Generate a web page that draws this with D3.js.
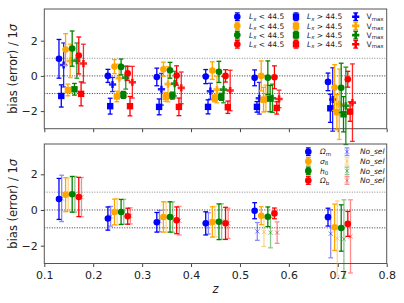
<!DOCTYPE html>
<meta charset="utf-8">
<head>
<script src="https://cdn.jsdelivr.net/npm/d3@7"></script>
<style>
body { margin: 0; background: #fff; }
text { font-family: "DejaVu Sans", sans-serif; fill: #222; }
</style>
</head>
<body>
<svg id="chart" width="404" height="303"></svg>
<script>
// redshift bins and colour of each parameter
var zBins = [0.13, 0.23, 0.33, 0.43, 0.53, 0.68];
var colors = ["#0000ff", "#ffa500", "#008000", "#ff0000"];

// top panel: L_x < 44.5 (circles)
var lowVal = [[0.97, 0.0, -0.06, -0.04, -0.11, -0.34], [1.5, 0.53, 0.38, 0.3, 0.0, -0.66],
              [1.55, 0.51, 0.32, 0.23, -0.1, -0.68], [1.16, 0.15, 0.02, 0.0, -0.08, -0.19]];
var lowErr = [[1.1, 0.37, 0.5, 0.4, 0.45, 0.5], [0.9, 0.4, 0.4, 0.5, 0.85, 1.3],
              [1.0, 0.45, 0.45, 0.6, 0.95, 1.4], [1.05, 0.4, 0.55, 0.35, 0.65, 0.45]];
// top panel: L_x > 44.5 (squares)
var highVal = [[-1.14, -1.72, -1.76, -1.76, -1.76, -1.84], [-0.8, -1.17, -1.19, -1.27, -1.35, -2.06],
               [-0.76, -1.08, -1.12, -1.19, -1.29, -2.18], [-1.02, -1.72, -1.76, -1.78, -1.82, -2.03]];
var highErr = [[0.63, 0.45, 0.45, 0.4, 0.3, 0.8], [0.33, 0.3, 0.25, 0.2, 0.7, 1.0],
               [0.33, 0.2, 0.2, 0.2, 0.75, 1.0], [0.68, 0.55, 0.5, 0.35, 0.35, 0.55]];
// top panel: V_max (plus)
var vmaxVal = [[0.62, -0.49, -0.76, -0.87, -1.27, -1.34], [0.85, -0.13, -0.47, -0.78, -1.27, -1.61],
               [0.87, -0.1, -0.44, -0.78, -1.27, -1.7], [0.7, -0.36, -0.68, -0.83, -1.31, -1.52]];
var vmaxErr = [[1.25, 0.4, 0.9, 0.45, 0.9, 1.8], [0.95, 0.8, 1.0, 0.75, 0.75, 2.0],
               [1.0, 0.65, 0.7, 0.75, 0.8, 2.2], [1.1, 0.9, 0.9, 1.15, 0.5, 2.2]];

// bottom panel: selected sample (circles) and No_sel (x)
var selVal = [[0.62, -0.48, -0.69, -0.75, -0.04, -0.4], [0.86, -0.11, -0.39, -0.67, -0.32, -0.97],
              [0.88, -0.11, -0.39, -0.66, -0.38, -1.01], [0.73, -0.35, -0.58, -0.75, -0.19, -0.78]];
var selErr = [[1.15, 0.65, 0.55, 0.65, 0.45, 0.5], [0.95, 0.72, 0.85, 0.85, 0.5, 1.3],
              [1.0, 0.7, 0.85, 1.0, 0.55, 1.3], [1.1, 0.45, 0.75, 0.9, 0.3, 0.7]];
var noselVal = [[0.65, -0.35, -0.62, -0.75, -1.2, -1.33], [0.86, -0.1, -0.4, -0.65, -1.24, -1.59],
                [0.88, -0.1, -0.4, -0.65, -1.27, -1.63], [0.72, -0.33, -0.6, -0.75, -1.27, -1.48]];
var noselErr = [[1.3, 0.55, 0.6, 0.6, 0.5, 1.35], [0.95, 0.75, 0.85, 0.85, 0.8, 2.1],
                [1.0, 0.7, 0.85, 1.0, 0.85, 2.2], [1.1, 0.45, 0.8, 0.85, 0.6, 2.05]];

var xTicks = [0.1, 0.2, 0.3, 0.4, 0.5, 0.6, 0.7, 0.8];
var yTicks = [-2, 0, 2];
var refLines = [1, 0, -1];
var paramNames = [["Ω", "m"], ["σ", "8"], ["h", "0"], ["Ω", "b"]];

var colStep = 0.0135;

var svg = d3.select("#chart");
var x = d3.scaleLinear().domain([0.1, 0.8]).range([44.3, 386.7]);
var yTop = d3.scaleLinear().domain([-3, 3.8]).range([128.7, 9]);
var yBot = d3.scaleLinear().domain([-3, 3.7]).range([263.5, 144]);

function panel(y, showLabels) {
    var g = svg.append("g");
    refLines.forEach(function (v) {
        g.append("line")
            .attr("x1", x.range()[0]).attr("x2", x.range()[1])
            .attr("y1", y(v)).attr("y2", y(v))
            .attr("stroke", v == 1 ? "#888" : "#333")
            .attr("stroke-width", 1)
            .attr("stroke-dasharray", "1,1.5");
    });
    var xa = d3.axisBottom(x).tickValues(xTicks).tickSizeOuter(0).tickSize(3.5)
        .tickFormat(showLabels ? d3.format(".1f") : "");
    g.append("g").attr("transform", "translate(0," + y.range()[0] + ")").call(xa)
        .call(s => s.select(".domain").remove())
        .call(s => s.selectAll("text").attr("font-size", 11).attr("dy", "0.85em").style("font-family", "DejaVu Sans"));
    var ya = d3.axisLeft(y).tickValues(yTicks).tickSize(3.5).tickFormat(d3.format("d"));
    g.append("g").attr("transform", "translate(" + x.range()[0] + ",0)").call(ya)
        .call(s => s.select(".domain").remove())
        .call(s => s.selectAll("text").attr("font-size", 11).style("font-family", "DejaVu Sans"));
    g.selectAll(".tick line").attr("stroke", "#444");
    g.append("rect")
        .attr("x", x.range()[0]).attr("y", y.range()[1])
        .attr("width", x.range()[1] - x.range()[0])
        .attr("height", y.range()[0] - y.range()[1])
        .attr("fill", "none").attr("stroke", "#555").attr("stroke-width", 1);
    var lab = g.append("text")
        .attr("transform", "translate(17," + ((y.range()[0] + y.range()[1]) / 2) + ") rotate(-90)")
        .attr("text-anchor", "middle").attr("font-size", 11.5)
        .text("bias (error) / 1");
    lab.append("tspan").attr("font-style", "italic").text("σ");
    return g;
}

function errBar(g, cx, cy, y0, y1, col, op) {
    var e = g.append("g").attr("stroke", col).attr("stroke-width", 1.3).attr("opacity", op);
    e.append("line").attr("x1", cx).attr("x2", cx).attr("y1", y0).attr("y2", y1);
    e.append("line").attr("x1", cx - 2.4).attr("x2", cx + 2.4).attr("y1", y0).attr("y2", y0);
    e.append("line").attr("x1", cx - 2.4).attr("x2", cx + 2.4).attr("y1", y1).attr("y2", y1);
}

var plusPath = "M-1.3,-3.6H1.3V-1.3H3.6V1.3H1.3V3.6H-1.3V1.3H-3.6V-1.3H-1.3Z";
var xPath = "M-2.2,-2.2L2.2,2.2M-2.2,2.2L2.2,-2.2";

function marker(g, kind, cx, cy, col, op) {
    if (kind == "o") g.append("circle").attr("cx", cx).attr("cy", cy).attr("r", 3.3).attr("fill", col).attr("opacity", op);
    if (kind == "s") g.append("rect").attr("x", cx - 3.2).attr("y", cy - 3.2).attr("width", 6.4).attr("height", 6.4).attr("fill", col).attr("opacity", op);
    if (kind == "P") g.append("path").attr("d", plusPath).attr("transform", "translate(" + cx + "," + cy + ")").attr("fill", col).attr("opacity", op);
    if (kind == "x") g.append("path").attr("d", xPath).attr("transform", "translate(" + cx + "," + cy + ")").attr("fill", "none").attr("stroke", col).attr("stroke-width", 1).attr("opacity", op);
}

function series(g, y, vals, errs, ci, dz, kind, op) {
    zBins.forEach(function (z, i) {
        var cx = x(z + ci * colStep + dz);
        var v = vals[ci][i], e = errs[ci][i];
        errBar(g, cx, y(v), y(v + e), y(v - e), colors[ci], op);
        marker(g, kind, cx, y(v), colors[ci], op);
    });
}

// ---- top panel
var gTop = panel(yTop, false);
colors.forEach(function (c, ci) {
    series(gTop, yTop, lowVal, lowErr, ci, 0, "o", 1);
    series(gTop, yTop, highVal, highErr, ci, 0.0047, "s", 1);
    series(gTop, yTop, vmaxVal, vmaxErr, ci, 0.0095, "P", 0.85);
});

// ---- bottom panel
var gBot = panel(yBot, true);
colors.forEach(function (c, ci) {
    series(gBot, yBot, noselVal, noselErr, ci, 0.0055, "x", 0.45);
    series(gBot, yBot, selVal, selErr, ci, 0, "o", 1);
});

svg.append("text").attr("x", x(0.45)).attr("y", 293).attr("text-anchor", "middle")
    .attr("font-size", 11.5).attr("font-style", "italic").text("z");

// ---- legends
function lxLabel(t, sign) {
    t.append("tspan").attr("font-style", "italic").text("L");
    t.append("tspan").attr("font-style", "italic").attr("font-size", 5.5).attr("dy", 1.5).text("x");
    t.append("tspan").attr("dy", -1.5).text(" " + sign + " 44.5");
}
var legRows = [16.7, 25.9, 35.1, 44.3];
colors.forEach(function (c, ci) {
    var ly = legRows[ci];
    marker(svg, "o", 237.3, ly, c, 1);
    errBar(svg, 237.3, ly, ly - 3.8, ly + 3.8, c, 1);
    lxLabel(svg.append("text").attr("x", 249).attr("y", ly + 2.6).attr("font-size", 7.5), "<");
    marker(svg, "s", 296, ly, c, 1);
    errBar(svg, 296, ly, ly - 3.8, ly + 3.8, c, 1);
    lxLabel(svg.append("text").attr("x", 307).attr("y", ly + 2.6).attr("font-size", 7.5), ">");
    marker(svg, "P", 355.7, ly, c, 1);
    errBar(svg, 355.7, ly, ly - 3.8, ly + 3.8, c, 1);
    var vt = svg.append("text").attr("x", 366.5).attr("y", ly + 2.6).attr("font-size", 7.5);
    vt.append("tspan").text("V");
    vt.append("tspan").attr("font-size", 5.5).attr("dy", 1.5).text("max");
});

var legRows2 = [151.7, 161.3, 170.9, 180.5];
colors.forEach(function (c, ci) {
    var ly = legRows2[ci];
    errBar(svg, 308.3, ly, ly - 3.8, ly + 3.8, c, 1);
    marker(svg, "o", 308.3, ly, c, 1);
    var t = svg.append("text").attr("x", 320).attr("y", ly + 2.6).attr("font-size", 7.5);
    t.append("tspan").attr("font-style", "italic").text(paramNames[ci][0]);
    t.append("tspan").attr("font-size", 5.5).attr("dy", 1.5).text(paramNames[ci][1]);
    errBar(svg, 347, ly, ly - 3.8, ly + 3.8, c, 0.45);
    marker(svg, "x", 347, ly, c, 0.45);
    svg.append("text").attr("x", 360).attr("y", ly + 2.6).attr("font-size", 7.5)
        .attr("font-style", "italic").text("No_sel");
});
</script>
</body>
